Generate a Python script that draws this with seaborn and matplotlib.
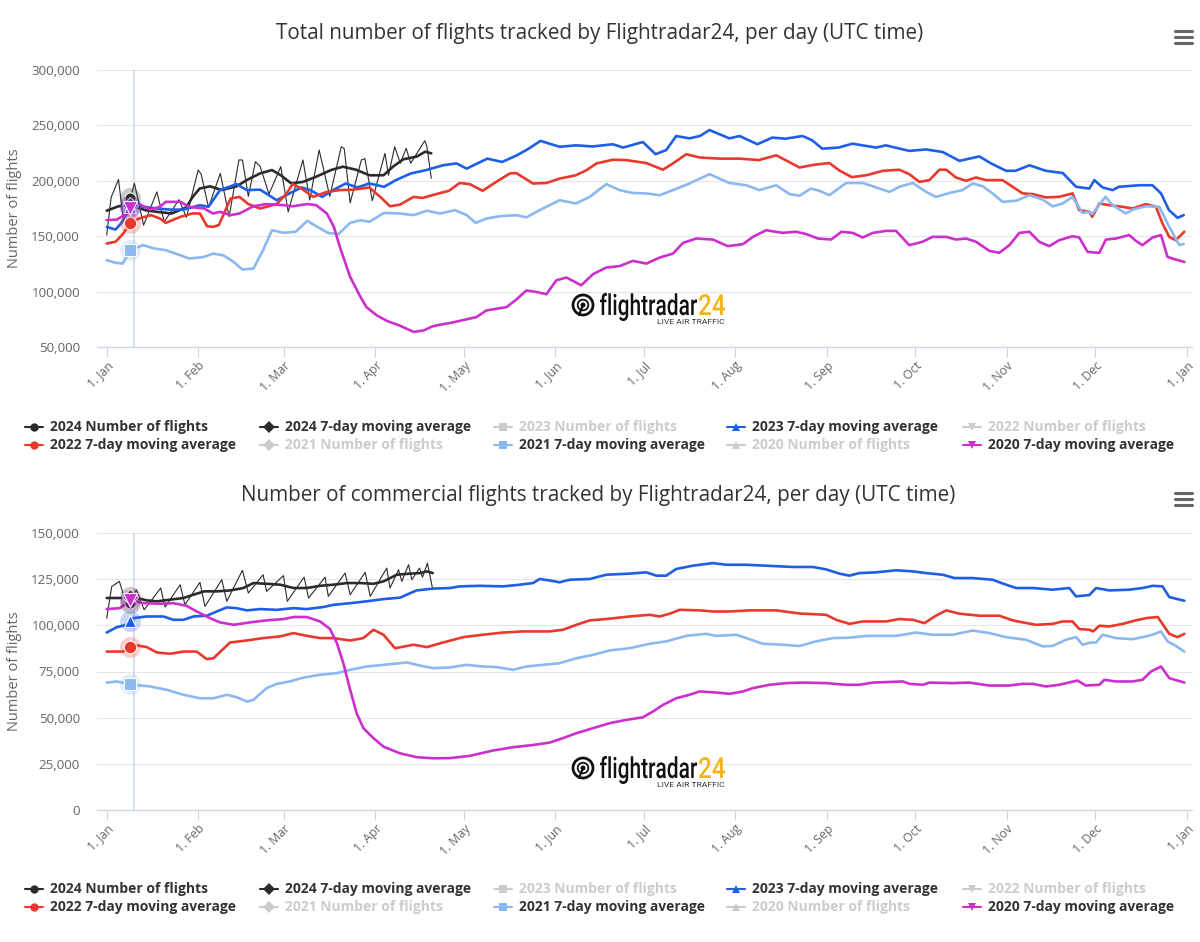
import numpy as np
import pandas as pd
import matplotlib
matplotlib.use("Agg")
import matplotlib.pyplot as plt
import seaborn as sns
from matplotlib.lines import Line2D
from matplotlib.patches import Circle, PathPatch
from matplotlib.textpath import TextPath
from matplotlib.font_manager import FontProperties
from matplotlib.transforms import Affine2D

# ---------------- DATA (days since 1 Jan, values in thousands) ----------------
month_days = [0, 31, 60, 91, 121, 152, 182, 213, 244, 274, 305, 335, 366]
month_labels = ["1. Jan", "1. Feb", "1. Mar", "1. Apr", "1. May", "1. Jun", "1. Jul",
                "1. Aug", "1. Sep", "1. Oct", "1. Nov", "1. Dec", "1. Jan"]

titles = ["Total number of flights tracked by Flightradar24, per day (UTC time)",
          "Number of commercial flights tracked by Flightradar24, per day (UTC time)"]
y_label = "Number of flights"
top_yticks = [50000, 100000, 150000, 200000, 250000, 300000]
bot_yticks = [0, 25000, 50000, 75000, 100000, 125000, 150000]

# ---- Top chart: total flights ----
t_day24_d = [0, 1.5, 4, 5.7, 9.4, 12.5, 17, 19.5, 24.5, 27, 31, 32, 34.5, 38.5, 41.5, 44.8, 46, 48, 50.4, 52,
             55, 59, 61.5, 66.5, 68.8, 72, 75.6, 79.5, 80.5, 82.5, 86.3, 87.5, 90, 94.3, 95.5, 97.6, 99.5,
             101.5, 103, 107.8, 108.5, 110]
t_day24_v = [151, 185, 201.3, 163, 197.7, 160, 190, 163, 183, 167, 209.7, 206, 176, 206.7, 167.6, 218.8, 218.8,
             186, 217.3, 213, 188, 212.8, 172, 218.8, 182.7, 227.8, 186, 230.8, 229, 180, 218.8, 220, 182,
             224.8, 205, 230.8, 215.8, 229.3, 215.8, 236.2, 231, 202.3]

t_ma24_d = [0, 4, 8, 13, 17, 22, 27, 29, 31.5, 35, 39, 44, 47.5, 52, 56, 59, 62.5, 66.5, 71, 76, 80, 84.5, 89,
            93.8, 97, 100.5, 105, 108, 110]
t_ma24_v = [173, 177, 178.5, 173.5, 172, 170.5, 176, 185, 193, 195, 191.7, 195, 200.7, 206.7, 209.7, 205, 197.7,
            199, 203.7, 209.7, 212.7, 210, 205, 205, 212.7, 219.4, 221.8, 226.3, 224.8]

t_ma23_d = [0, 3, 5, 8, 11, 17, 21.5, 26, 31.6, 34.5, 38.4, 44, 47.5, 52, 57.6, 62, 66, 69, 73, 77, 81, 85, 89,
            94, 98, 103, 108, 114, 118.5, 122, 129, 134, 139, 143, 147, 153.5, 159, 164.7, 171.5, 175, 181.7,
            186, 189.6, 193, 197.5, 201, 204.3, 211, 214.5, 220.5, 225.6, 230, 235.8, 239, 242.5, 248, 252.7,
            260.7, 264, 272, 277.7, 283.3, 289, 295.7, 299.7, 304.8, 308, 312.7, 318.3, 324, 328.5, 333, 334.7,
            337.5, 340.9, 343, 350, 354.4, 357.3, 360, 362.9, 365]
t_ma23_v = [158.4, 156, 162, 176, 177, 175, 174, 174, 178, 176.5, 191.6, 197, 191.6, 192, 182.5, 188.6, 194,
            191.6, 185.5, 192, 197.6, 194, 197.6, 194.6, 200.6, 206.6, 209.5, 214, 215.7, 211, 220, 217, 223,
            229, 236, 230.7, 232, 231, 233, 230, 235, 224, 227.7, 240.4, 238.3, 240.4, 245.8, 238.3, 240.4,
            233, 239, 238, 240.4, 236.7, 229, 230, 233.5, 230, 232, 227, 228.3, 226, 218, 222, 215.7, 209, 209,
            214, 209, 207, 194.6, 193, 200.6, 194, 191.6, 194.6, 196, 196, 188.6, 173.5, 166.6, 169]

t_ma22_d = [0, 3, 5.6, 8, 11, 15, 18, 20, 25, 29, 31.6, 34, 36, 38, 42, 45, 48, 52, 57.6, 61, 63, 66, 70, 74.6,
            79, 83.6, 89, 92.7, 96, 99.4, 104, 107, 112.5, 116, 119.6, 123, 127.4, 132, 136.6, 138.8, 144.4,
            149, 153.5, 159, 162.6, 166, 171.5, 176, 182.9, 188.5, 191.9, 196.4, 201, 207.7, 214.5, 221, 226.9,
            230, 234.8, 239.8, 244.9, 248.3, 252.5, 257.4, 263, 268.6, 272, 275.4, 278.8, 282.2, 284.5, 287.8,
            291.2, 294.6, 298, 303.6, 307, 310.4, 313.8, 318.3, 322.8, 327.3, 329.6, 333, 334, 336.4, 339.8,
            344.3, 347.7, 352.2, 355.6, 357.8, 360.1, 362.3, 365.2]
t_ma22_v = [143.4, 145, 152.4, 162, 166, 169, 166, 162, 167.5, 170.5, 170.5, 159, 158.4, 160, 184, 185.5, 179,
            175, 179, 188.6, 197, 193, 185.5, 190, 191.6, 192, 194, 185.5, 177, 178.5, 185.5, 184.5, 188.6, 191,
            198, 197, 191, 199, 206.6, 207, 197.6, 198, 202, 205, 209.6, 215.7, 219, 218.7, 216, 210, 215.7,
            224, 221, 220, 220, 218.7, 223, 218.7, 212, 214.5, 216, 209.3, 203.3, 205, 209, 210, 206, 199,
            200.6, 210, 210, 203, 200, 203, 200.6, 200.6, 194.6, 188.6, 188, 185, 185.5, 188.6, 173.5, 172,
            167.5, 179.5, 178, 176.5, 175, 179, 176.5, 161.4, 149.4, 146.4, 154]

t_ma21_d = [0, 3, 5.4, 8, 12.4, 16, 20, 25, 28, 33, 36, 39.5, 43, 46, 49.7, 53, 56, 60, 64, 68, 71, 75, 78.5,
            82.5, 86, 89, 94, 99.4, 104, 108.5, 113, 118, 122, 125, 128.7, 133.2, 138.8, 142.2, 146.7, 153.5,
            159, 163.7, 169.3, 173.8, 178.3, 182.9, 187.4, 191.9, 197.5, 204.3, 211, 216.7, 221.2, 226.9, 231.4,
            234.8, 238.6, 241.5, 244.9, 250.6, 256.2, 261.9, 265.3, 268.6, 273.2, 277.7, 281, 285.6, 290, 293.5,
            296.9, 300.2, 303.6, 308.2, 312.7, 317.2, 320.6, 324, 327.3, 330.7, 333, 334, 338.5, 340.9, 345.4,
            347.7, 352.2, 356.7, 360.1, 363.5, 365]
t_ma21_v = [128.3, 126, 125.3, 137.4, 141.9, 139, 137.4, 132.8, 129.8, 131.3, 134.3, 132.8, 126.8, 119.9, 120.8,
            137.4, 155.4, 153, 154, 163.9, 159, 153, 151.8, 162, 164.4, 163, 171, 170.5, 169, 173, 170.5,
            173.5, 169, 162, 166, 168, 169, 167, 173.5, 182.5, 179.5, 185.5, 197, 191.6, 189, 188.6, 187,
            191.6, 197.6, 206, 198, 196, 191.6, 196, 188, 186.5, 193, 191, 187, 198, 198, 193, 190, 194.6, 198,
            190, 185.5, 189, 191.6, 197.6, 195, 188.6, 181, 182, 187, 183, 177, 179.5, 185.5, 171, 172, 170,
            185.5, 178, 170.5, 174, 177, 176.5, 158.4, 142, 143]

t_ma20_d = [0, 3.4, 6.8, 8.5, 11, 14.7, 18, 20, 25, 28, 33, 36, 38.4, 42, 45, 49.7, 54, 60, 63, 68, 71, 74.6, 77,
            79, 82.5, 86, 88, 91.5, 95, 99.4, 104, 107.5, 110.3, 112, 117, 125.3, 128.7, 135.5, 138.8, 142.2,
            145.6, 149, 152.4, 155.8, 160.8, 164.8, 169.3, 173.8, 178.3, 182.9, 187.4, 191.9, 195.3, 199.8,
            205.4, 210.5, 215.6, 219, 223.5, 229.1, 233.6, 237, 241, 245.5, 249, 252.8, 256.2, 259.6, 264.1,
            267.5, 272, 276.5, 279.9, 284.5, 287.8, 291.2, 294.6, 299.1, 302.5, 305.9, 309.3, 312.7, 316,
            319.4, 322.8, 327.3, 329.6, 332.4, 336.4, 338.6, 342, 346.5, 348.8, 351, 354.4, 357.3, 359.5,
            362.3, 365.2]
t_ma20_v = [164.5, 165, 170.5, 178, 179, 174, 176.5, 181, 181, 176.5, 175, 170.5, 172, 169, 170.5, 177, 179,
            178, 177, 179, 178, 170.5, 158.4, 140.4, 113.3, 95.2, 86, 78.6, 73.5, 69.2, 63.6, 65, 68.5, 69.6,
            72, 77, 83, 86, 92.8, 101, 99.7, 97.6, 110.2, 112.7, 105.7, 115.7, 121.7, 123, 127.7, 125.3,
            130.7, 134.3, 144, 147.9, 147, 141, 142.8, 149.4, 155.4, 153, 154, 152, 147.9, 147, 154, 153,
            148.8, 153, 154.8, 154.8, 141.9, 145, 149.4, 149.4, 147, 147.9, 145, 136.8, 135, 141.9, 153, 154,
            145, 141, 146.4, 150, 148.8, 135.8, 135, 147, 147.9, 151, 145.8, 141.9, 148.8, 151, 131.3, 128.9,
            126.8]

# ---- Bottom chart: commercial flights ----
b_day24_d = [0, 1.7, 4.3, 6, 7.5, 10, 12.7, 18.3, 19.8, 24.9, 26.5, 31.6, 33.3, 39, 40.7, 46, 48, 53, 54.2,
             59.9, 61.2, 66.9, 68.4, 74, 75.1, 80.8, 82.5, 87.6, 89.3, 94.9, 96, 98.9, 100, 102.3, 103.4, 106,
             107, 108.7, 110.5]
b_day24_v = [103.9, 121, 123.8, 114.8, 110, 119.3, 108.4, 120.2, 109.9, 122, 111.1, 123.3, 110.2, 124.7, 113,
             129.8, 117.5, 127.4, 118.4, 126.9, 113, 126.1, 114.8, 126.1, 115.7, 128.3, 116.6, 128.7, 115.7,
             131, 120.2, 130.1, 123.8, 132.8, 124.7, 131, 126, 133.7, 119.3]

b_ma24_d = [0, 4.5, 9, 13.6, 17, 21.5, 26, 29.4, 33, 37.3, 41.8, 46.3, 49.7, 54.2, 58.8, 63.3, 67.8, 72.3, 76.8,
            81.4, 85.9, 90.4, 93.8, 98.3, 102.8, 106.2, 108.5, 110.5]
b_ma24_v = [114.8, 114.8, 115.3, 113.5, 113, 113.9, 114.8, 116.6, 118.4, 118.4, 118.9, 120.2, 122.9, 122.5, 122,
            120.2, 120.2, 121.4, 122, 122.9, 122.9, 122.5, 123.8, 127.4, 128, 128.3, 129.2, 128.3]

b_ma23_d = [0, 3.4, 6.8, 9, 13.6, 19.2, 22.6, 26, 29.4, 33.9, 37.3, 40.7, 44, 47.5, 52, 57.6, 63.3, 67.8, 73.4,
            76.8, 82.5, 88, 93.8, 99.4, 105, 110.7, 116.4, 119.6, 126.4, 134.3, 140, 144.5, 146.7, 150.1, 153.5,
            156.9, 163.7, 169.3, 177.2, 182.9, 186.3, 189.6, 193, 198.6, 205.4, 210, 216.7, 223.5, 232.5,
            239.3, 243.8, 248.3, 251.7, 255.1, 260.7, 267.5, 273.2, 277.7, 283.3, 287.3, 293.5, 300.2, 304.8,
            308.2, 313.8, 320.6, 326.2, 328.5, 333, 335.3, 339.8, 346.5, 351, 354.4, 357.8, 360.1, 365.2]
b_ma23_v = [96.1, 99, 100.3, 103.9, 104.8, 104.8, 103, 103, 104.8, 105.2, 107.5, 109.7, 109.3, 108.1, 108.8,
            108.4, 109.3, 108.8, 109.9, 111.1, 112, 113, 114.2, 115, 118.9, 119.9, 120.2, 121.1, 121.4, 121.1,
            122, 122.9, 125.1, 124.3, 123.3, 124.7, 125.1, 127.4, 128, 128.7, 126.9, 126.9, 130.5, 132.3,
            133.7, 132.8, 132.8, 132.3, 131.6, 131.6, 130.3, 128, 126.9, 128.3, 128.7, 129.8, 129.2, 128.3,
            127.4, 125.6, 125.6, 124.7, 122, 120.2, 120.2, 119.3, 120.2, 115.7, 116.4, 120.2, 118.9, 119.3,
            120.2, 121.4, 121.1, 115.3, 113.3]

b_ma22_d = [0, 5.6, 9, 13.6, 17, 21.5, 26, 30.5, 33.9, 36.2, 41.8, 47.5, 53.1, 58.8, 63.3, 67.8, 72.3, 76.8,
            82.5, 87, 90.4, 93.8, 97.7, 104, 108.5, 114, 120.8, 127.5, 134.3, 141.1, 150.1, 154.6, 159.2, 163.7,
            169.3, 177.2, 184, 187.4, 190.8, 194.2, 201, 205.4, 211, 217.9, 226.9, 234.8, 243.8, 247.2, 251.7,
            256.2, 264.1, 268.6, 273.2, 277.1, 281, 284.5, 289, 295.8, 302.5, 307, 310.4, 314.9, 320.6, 324,
            327.3, 329.6, 333, 334.3, 336.4, 339.8, 344.3, 348.8, 352.2, 356.2, 360.1, 362.9, 365.2]
b_ma22_v = [85.8, 85.8, 89.5, 88.2, 85.3, 84.6, 85.8, 85.8, 81.7, 82.2, 90.7, 91.8, 93.1, 94, 95.8, 94.3, 93.1,
            93.1, 91.8, 93.1, 97.6, 94.9, 87.6, 89.5, 88.2, 90.7, 93.6, 94.9, 96.1, 96.7, 96.7, 97.6, 100.3,
            102.7, 103.4, 104.8, 105.7, 104.8, 106.3, 108.4, 108.1, 107.5, 107.5, 108.1, 108.1, 106.4, 105.7,
            103, 100.8, 102.1, 102.1, 103.4, 103, 101.2, 105.2, 108.1, 106.3, 105.2, 105.2, 102.7, 101.6,
            100.3, 100.8, 102.1, 102.1, 98, 97.6, 96.7, 99.8, 99.4, 100.8, 102.7, 103.9, 104.5, 95.4, 93.6,
            95.4]

b_ma21_d = [0, 3.4, 6.2, 9, 14.7, 20.3, 26, 31.6, 36.2, 40.7, 44, 47.5, 49.7, 54.2, 57.6, 62, 66.7, 72.3, 78,
            82.5, 88.1, 93.8, 99.4, 101.7, 106.2, 110.7, 116.4, 121.9, 127.5, 132.1, 137.7, 142.2, 147.9, 153.5,
            159.2, 164.8, 170.4, 177.2, 184, 189.6, 196.4, 203.2, 206.6, 213.3, 216.7, 222.4, 229.1, 234.8,
            240.4, 246.1, 251.7, 257.4, 267.5, 274.3, 279.9, 286.7, 293.5, 299.1, 304.8, 311.5, 317.2, 320.6,
            325.1, 328.5, 330.7, 333.6, 335.3, 337.5, 342, 347.6, 351, 354.4, 357.3, 359.5, 362.3, 365.2]
b_ma21_v = [69, 69.6, 68.7, 67.8, 66.9, 65.1, 62.4, 60.5, 60.5, 62.4, 61.1, 58.7, 59.6, 66, 68.3, 69.6, 71.7,
            73.2, 74.1, 75.9, 77.7, 78.6, 79.5, 79.9, 78.2, 76.8, 77.2, 78.6, 77.7, 77.4, 75.9, 77.7, 78.6,
            79.5, 82.2, 84, 86.4, 87.6, 90, 91.3, 94.3, 95.4, 94.3, 94.9, 93.1, 90, 89.5, 88.8, 91.3, 93.1,
            93.3, 94.3, 94.3, 96.1, 94.9, 94.9, 97.2, 95.8, 93.6, 92.2, 88.6, 88.9, 92.2, 93.6, 89.5, 90.7,
            90.7, 94.9, 93.1, 92.5, 93.6, 94.9, 96.7, 91.3, 88.9, 85.8]

b_ma20_d = [0, 4.5, 8, 12.4, 18, 22.6, 27, 31.6, 35, 38.4, 43, 48.6, 54.2, 60, 63.3, 67.8, 72.3, 75.7, 78, 80.2,
            82.5, 84.7, 87, 90.4, 93.8, 99.4, 105, 110.7, 116.3, 123, 130.9, 137.7, 144.5, 150.1, 154.6, 159.2,
            164.8, 170.4, 176.1, 181.7, 185.1, 188.5, 193, 197.5, 200.9, 206.6, 211.1, 215.6, 219, 224.6, 230.3,
            236, 243.8, 250.6, 255.1, 259.6, 269.8, 272.1, 276.6, 278.8, 286.7, 292.3, 299.1, 305.9, 310.4,
            313.8, 318.3, 322.8, 329, 331.8, 336.4, 338.1, 342, 347.6, 351, 353.9, 357.3, 360.1, 365.2]
b_ma20_v = [108.8, 109.3, 113.9, 112, 111.7, 112, 110.6, 106.6, 103.9, 101.6, 100.3, 101.6, 102.7, 103.4, 104.5,
            104.5, 102.1, 98, 90.4, 79.5, 65.1, 52.4, 44.3, 38.9, 34.3, 30.7, 28.6, 28, 28.1, 29.3, 32.2, 34,
            35.2, 36.5, 38.9, 41.6, 44.3, 47, 48.8, 50.2, 53.3, 56.9, 60.5, 62.4, 64.2, 63.6, 62.9, 64.2, 66,
            67.8, 68.7, 69, 68.7, 67.8, 67.8, 69, 69.6, 68.3, 67.8, 69, 68.7, 69, 67.4, 67.4, 68.3, 68.3, 66.9,
            67.8, 70.1, 67.4, 67.8, 70.5, 69.6, 69.6, 70.5, 75, 77.7, 71.4, 69]

legend_labels = ["2024 Number of flights", "2024 7-day moving average", "2023 Number of flights",
                 "2023 7-day moving average", "2022 Number of flights", "2022 7-day moving average",
                 "2021 Number of flights", "2021 7-day moving average", "2020 Number of flights",
                 "2020 7-day moving average"]
legend_visible = [True, True, False, True, False, True, False, True, False, True]
legend_markers = ["o", "D", "s", "^", "v", "o", "D", "s", "^", "v"]

HOVER_DAY = 8
CROSSHAIR_DAY = 9.35

# ---------------- STYLE ----------------
C24 = "#2b2b2b"
C23 = "#1f5ee6"
C22 = "#e8392c"
C21 = "#8bb8ee"
C20 = "#cc2fcc"
HIDDEN = "#cccccc"
legend_colors = [C24, C24, HIDDEN, C23, HIDDEN, C22, HIDDEN, C21, HIDDEN, C20]

sns.set_theme(style="white")
plt.rcParams['font.family'] = ['Open Sans', 'DejaVu Sans']

W, H = 1200, 942
fig = plt.figure(figsize=(12, 9.42), dpi=100)
pxT = Affine2D().scale(1 / fig.dpi) + fig.dpi_scale_trans  # pixel coords from bottom-left


def fx(x):
    return x / W


def fy(y):
    return 1 - y / H


AX_L, AX_R = 97, 1192
PPD = (1186.7 - 106.7) / 366.0
XMIN = -(106.7 - AX_L) / PPD
XMAX = 366 + (AX_R - 1186.7) / PPD


def make_axes(top_px, bot_px):
    ax = fig.add_axes([fx(AX_L), fy(bot_px), (AX_R - AX_L) / W, (bot_px - top_px) / H])
    return ax


def style_axes(ax, yticks):
    ax.set_xlim(XMIN, XMAX)
    ax.set_ylim(yticks[0], yticks[-1])
    for s in ["top", "right", "left"]:
        ax.spines[s].set_visible(False)
    ax.spines["bottom"].set_color("#ccd6eb")
    ax.spines["bottom"].set_linewidth(0.9)
    ax.spines["bottom"].set_zorder(0.5)
    ax.set_yticks(yticks)
    ax.set_yticklabels([f"{t:,}" for t in yticks])
    ax.grid(axis="y", color="#e6e6e6", linewidth=0.8)
    ax.grid(axis="x", visible=False)
    ax.set_axisbelow(True)
    ax.tick_params(axis="y", length=0, pad=12.2, labelsize=9.6, labelcolor="#666666")
    ax.set_xticks(month_days)
    ax.set_xticklabels(month_labels, rotation=45, ha="right", va="top", rotation_mode="anchor")
    ax.tick_params(axis="x", length=7.2, width=0.8, color="#ccd6eb", pad=1.5, labelsize=8.8,
                   labelcolor="#666666", bottom=True)
    ax.set_xlabel("")
    ax.set_ylabel(y_label, fontsize=10.5, color="#666666")
    ax.yaxis.set_label_coords((22 - AX_L) / (AX_R - AX_L), 0.5)
    ax.axvline(CROSSHAIR_DAY, color="#ccd6eb", linewidth=1.1, zorder=1)


def draw_lines(ax, series):
    z = 2
    for d, v, color, lw in series:
        sns.lineplot(x=np.asarray(d, float), y=np.asarray(v, float) * 1000, ax=ax, color=color,
                     linewidth=lw, sort=False, estimator=None, legend=False, zorder=z)
        z += 0.1


def draw_hover(ax, series):
    z = 10
    for d, v, color, marker, ms in series:
        val = np.interp(HOVER_DAY, d, v) * 1000
        ax.plot([HOVER_DAY], [val], linestyle="none", marker="o", markersize=15, color=color,
                alpha=0.25, markeredgewidth=0, zorder=z, clip_on=False)
        ax.plot([HOVER_DAY], [val], linestyle="none", marker=marker, markersize=ms, markerfacecolor=color,
                markeredgecolor="white", markeredgewidth=0.8, zorder=z + 0.05, clip_on=False)
        z += 0.1


def draw_legend(y1, y2):
    text_x = [50, 285, 519, 752, 988]
    for i, lab in enumerate(legend_labels):
        row, col = divmod(i, 5)
        y = y1 if row == 0 else y2
        tx = text_x[col]
        mx = tx - 16
        c = legend_colors[i]
        fig.add_artist(Line2D([fx(mx - 9), fx(mx + 9)], [fy(y), fy(y)], color=c, linewidth=1.5,
                              transform=fig.transFigure))
        fig.add_artist(Line2D([fx(mx)], [fy(y)], color=c, marker=legend_markers[i], markersize=6,
                              markeredgewidth=0, transform=fig.transFigure))
        fig.text(fx(tx), fy(y), lab, ha="left", va="center", fontsize=10, fontweight="bold",
                 color="#333333" if legend_visible[i] else HIDDEN)


def draw_menu(yc):
    for dy in (-6, 0, 6):
        fig.add_artist(Line2D([fx(1175), fx(1192)], [fy(yc + dy), fy(yc + dy)], color="#666666",
                              linewidth=2.2, solid_capstyle="round", transform=fig.transFigure))


def draw_logo(cx, cy):
    Y = H - cy
    ink = "#111111"
    fig.add_artist(Circle((cx, Y), 10, transform=pxT, fill=False, lw=2.0, ec=ink))
    fig.add_artist(Circle((cx, Y), 5.3, transform=pxT, fill=False, lw=1.3, ec=ink))
    fig.add_artist(Circle((cx, Y), 1.8, transform=pxT, color=ink))
    fig.add_artist(Line2D([cx, cx - 4], [Y, Y - 10], transform=pxT, color=ink, lw=1.6))
    fp = FontProperties(family="Roboto", weight="medium")
    base = H - (cy + 10)
    tp = TextPath((0, 0), "flightradar", size=29, prop=fp)
    ext = tp.get_extents()
    sx = 97.0 / ext.width
    tr = Affine2D().scale(sx, 1).translate(cx + 17 - ext.x0 * sx, base) + pxT
    fig.add_artist(PathPatch(tp, transform=tr, fc=ink, ec="none"))
    tp2 = TextPath((0, 0), "24", size=29, prop=fp)
    ext2 = tp2.get_extents()
    sx2 = 26.0 / ext2.width
    tr2 = Affine2D().scale(sx2, 1).translate(cx + 116 - ext2.x0 * sx2, base) + pxT
    fig.add_artist(PathPatch(tp2, transform=tr2, fc="#f2b51c", ec="none"))
    fig.text(fx(cx + 142), fy(cy + 17), "LIVE AIR TRAFFIC", ha="right", va="center", fontsize=6.1,
             color="#333333", family=["Roboto", "DejaVu Sans"])


# ---------------- TOP CHART ----------------
ax1 = make_axes(70, 347)
draw_lines(ax1, [(t_day24_d, t_day24_v, C24, 0.8), (t_ma24_d, t_ma24_v, C24, 1.9),
                 (t_ma23_d, t_ma23_v, C23, 1.9), (t_ma22_d, t_ma22_v, C22, 1.9),
                 (t_ma21_d, t_ma21_v, C21, 1.9), (t_ma20_d, t_ma20_v, C20, 1.9)])
style_axes(ax1, top_yticks)
draw_hover(ax1, [(t_day24_d, t_day24_v, C24, "o", 8), (t_ma24_d, t_ma24_v, C24, "D", 8),
                 (t_ma23_d, t_ma23_v, C23, "^", 9), (t_ma22_d, t_ma22_v, C22, "o", 9),
                 (t_ma21_d, t_ma21_v, C21, "s", 8.5), (t_ma20_d, t_ma20_v, C20, "v", 9.5)])

# ---------------- BOTTOM CHART ----------------
ax2 = make_axes(533, 810)
draw_lines(ax2, [(b_day24_d, b_day24_v, C24, 0.8), (b_ma24_d, b_ma24_v, C24, 1.9),
                 (b_ma23_d, b_ma23_v, C23, 1.9), (b_ma22_d, b_ma22_v, C22, 1.9),
                 (b_ma21_d, b_ma21_v, C21, 1.9), (b_ma20_d, b_ma20_v, C20, 1.9)])
style_axes(ax2, bot_yticks)
draw_hover(ax2, [(b_day24_d, b_day24_v, C24, "o", 8), (b_ma24_d, b_ma24_v, C24, "D", 8),
                 (b_ma23_d, b_ma23_v, C23, "^", 9), (b_ma22_d, b_ma22_v, C22, "o", 9),
                 (b_ma21_d, b_ma21_v, C21, "s", 8.5), (b_ma20_d, b_ma20_v, C20, "v", 9.5)])

# ---------------- DECORATIONS ----------------
fig.text(0.5, fy(33), titles[0], ha="center", va="center", fontsize=14.9, color="#333333")
fig.text(0.5 - 2 / W, fy(495), titles[1], ha="center", va="center", fontsize=14.9, color="#333333")
draw_menu(37)
draw_menu(499)
draw_legend(427, 445)
draw_legend(889, 907)
draw_logo(583, 305)
draw_logo(583, 768)

fig.savefig("out.png", dpi=100, facecolor="white")
